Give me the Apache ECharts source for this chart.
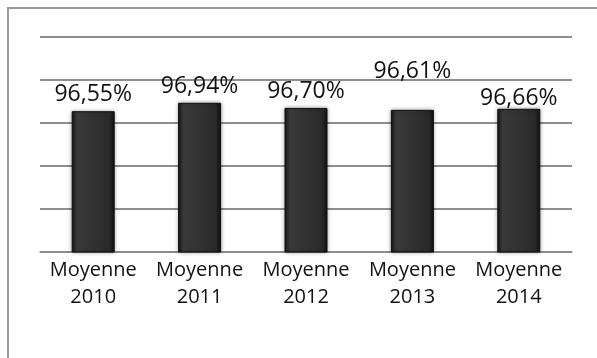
<!DOCTYPE html>
<html>
<head>
<meta charset="utf-8">
<script src="https://cdn.jsdelivr.net/npm/echarts@6/dist/echarts.min.js"></script>
<style>html,body{margin:0;padding:0;background:#fff}#c{width:597px;height:358px}</style>
</head>
<body>
<div id="c"></div>
<script>
var categories = ['Moyenne\n2010', 'Moyenne\n2011', 'Moyenne\n2012', 'Moyenne\n2013', 'Moyenne\n2014'];
var values = [96.55, 96.94, 96.70, 96.61, 96.66];
var labelTexts = ['96,55%', '96,94%', '96,70%', '96,61%', '96,66%'];
var labelOffsets = [[0, 0], [0, 0], [0, 0], [0, -22], [0, 6]];

var chart = echarts.init(document.getElementById('c'));
var barColor = new echarts.graphic.LinearGradient(0, 0, 1, 0, [
  {offset: 0, color: '#151515'},
  {offset: 0.12, color: '#3a3a3a'},
  {offset: 0.5, color: '#323232'},
  {offset: 0.88, color: '#2a2a2a'},
  {offset: 1, color: '#111111'}
]);
chart.setOption({
  animation: false,
  grid: {left: 40, right: 25, top: 37, bottom: 106},
  graphic: [{
    type: 'polyline',
    shape: {points: [[8, 400], [8, 8], [700, 8]]},
    style: {stroke: '#9a9a9a', lineWidth: 2, fill: null}
  }],
  xAxis: {
    type: 'category',
    data: categories,
    axisLine: {lineStyle: {color: '#8c8c8c', width: 1.5}},
    axisTick: {length: 5, lineStyle: {color: '#8c8c8c', width: 1.5}},
    axisLabel: {interval: 0, fontFamily: 'Open Sans', fontSize: 20, color: '#111', lineHeight: 27, margin: 5}
  },
  yAxis: {
    type: 'value', min: 90, max: 100, interval: 2,
    axisLabel: {show: false}, axisLine: {show: false}, axisTick: {show: false},
    splitLine: {lineStyle: {color: '#8f8f8f', width: 2}}
  },
  series: [{
    type: 'bar',
    barWidth: 43,
    data: values.map(function (v, i) {
      return {value: v, label: {offset: labelOffsets[i]}};
    }),
    itemStyle: {color: barColor, borderColor: '#0e0e0e', borderWidth: 1, shadowColor: 'rgba(0,0,0,0.35)', shadowBlur: 4},
    label: {
      show: true, position: 'top', distance: 5,
      fontFamily: 'Open Sans', fontSize: 23, color: '#111',
      formatter: function (p) { return labelTexts[p.dataIndex]; }
    }
  }]
});
</script>
</body>
</html>
